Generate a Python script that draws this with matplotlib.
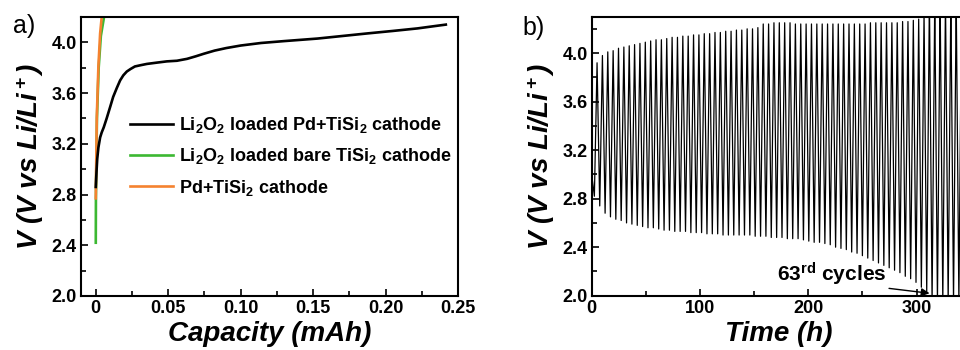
import numpy as np
import matplotlib
matplotlib.use("Agg")
import matplotlib.pyplot as plt
from matplotlib.ticker import MultipleLocator

plt.rcParams['font.family'] = ['Liberation Sans', 'DejaVu Sans']
plt.rcParams['font.weight'] = 'bold'
plt.rcParams['axes.labelweight'] = 'bold'
plt.rcParams['mathtext.fontset'] = 'custom'
plt.rcParams['mathtext.rm'] = 'Liberation Sans'
plt.rcParams['mathtext.bf'] = 'Liberation Sans:bold'
plt.rcParams['mathtext.it'] = 'Liberation Sans:italic'
plt.rcParams['mathtext.default'] = 'bf'

# ---- panel a: first charge curves ----
cap_pd = [0.0, 0.0005, 0.001, 0.0018, 0.003, 0.0041, 0.0055, 0.0075, 0.0099,
          0.012, 0.0145, 0.0168, 0.019, 0.0214, 0.024, 0.027, 0.031, 0.0353,
          0.042, 0.049, 0.056, 0.063, 0.069, 0.0745, 0.082, 0.09, 0.1, 0.114,
          0.13, 0.153, 0.17, 0.187, 0.205, 0.222, 0.235, 0.2416]
v_pd = [2.86, 2.98, 3.08, 3.17, 3.25, 3.29, 3.33, 3.40, 3.49,
        3.57, 3.64, 3.70, 3.74, 3.77, 3.79, 3.81, 3.82, 3.83,
        3.84, 3.85, 3.855, 3.87, 3.89, 3.91, 3.935, 3.955, 3.975, 3.995,
        4.01, 4.03, 4.05, 4.07, 4.09, 4.11, 4.13, 4.14]

cap_bare = [0.0, 0.0001, 0.0008, 0.002, 0.0035, 0.006]
v_bare = [2.42, 2.77, 3.40, 3.80, 4.05, 4.22]

cap_nolio = [0.0, 0.0007, 0.0018, 0.003, 0.0041, 0.005]
v_nolio = [2.77, 3.41, 3.81, 4.07, 4.20, 4.28]

labels_a = [r'Li$_2$O$_2$ loaded Pd+TiSi$_2$ cathode',
            r'Li$_2$O$_2$ loaded bare TiSi$_2$ cathode',
            r'Pd+TiSi$_2$ cathode']
xticks_a = [0, 0.05, 0.10, 0.15, 0.20, 0.25]
xticklabels_a = ['0', '0.05', '0.10', '0.15', '0.20', '0.25']
yticks = [2.0, 2.4, 2.8, 3.2, 3.6, 4.0]
yticklabels = ['2.0', '2.4', '2.8', '3.2', '3.6', '4.0']

# ---- panel b: cycling, per-cycle end-of-charge / end-of-discharge voltage ----
cycle_hours = 4.95
ocv_start = 3.0
peak_v = [3.92, 3.98, 4.01, 4.02, 4.04, 4.05, 4.06, 4.07, 4.08, 4.09,
          4.10, 4.11, 4.11, 4.12, 4.13, 4.13, 4.14, 4.14, 4.15, 4.15,
          4.16, 4.16, 4.17, 4.17, 4.18, 4.18, 4.19, 4.19, 4.20, 4.20,
          4.21, 4.24, 4.24, 4.25, 4.25, 4.25, 4.25, 4.24, 4.24, 4.24,
          4.24, 4.24, 4.24, 4.24, 4.24, 4.24, 4.24, 4.24, 4.24, 4.24,
          4.24, 4.25, 4.25, 4.25, 4.25, 4.25, 4.25, 4.26, 4.26, 4.27,
          4.28, 4.33, 4.45, 4.45, 4.45, 4.45, 4.45, 4.45, 4.45]
trough_v = [2.82, 2.74, 2.68, 2.65, 2.63, 2.62, 2.60, 2.59, 2.58, 2.57,
            2.56, 2.56, 2.55, 2.54, 2.54, 2.53, 2.53, 2.53, 2.52, 2.52,
            2.52, 2.51, 2.51, 2.51, 2.50, 2.50, 2.50, 2.50, 2.50, 2.50,
            2.49, 2.49, 2.49, 2.48, 2.48, 2.48, 2.47, 2.47, 2.47, 2.46,
            2.45, 2.44, 2.44, 2.43, 2.42, 2.40, 2.39, 2.38, 2.36, 2.35,
            2.33, 2.31, 2.29, 2.27, 2.25, 2.23, 2.21, 2.19, 2.16, 2.14,
            2.11, 2.07, 2.03, 1.95, 1.95, 1.95, 1.95, 1.95, 1.95]
xticks_b = [0, 100, 200, 300]
xticklabels_b = ['0', '100', '200', '300']

# build the time trace: discharge to trough, then charge to peak, each cycle
t_b = [0.0]
v_b = [ocv_start]
for i in range(len(peak_v)):
    t_b += [(i + 0.5) * cycle_hours, (i + 1) * cycle_hours]
    v_b += [trough_v[i], peak_v[i]]

fig = plt.figure(figsize=(9.6, 3.5), dpi=100)
ax1 = fig.add_axes([81 / 960, 54 / 350, 377 / 960, 279 / 350])
ax2 = fig.add_axes([591.7 / 960, 54.3 / 350, 373.6 / 960, 279 / 350])

ax1.plot(cap_pd, v_pd, color='black', lw=1.9, label=labels_a[0], zorder=3)
ax1.plot(cap_bare, v_bare, color='#3cb832', lw=1.9, label=labels_a[1])
ax1.plot(cap_nolio, v_nolio, color='#f5822f', lw=1.9, label=labels_a[2])
ax1.set_xlim(-0.0102, 0.25)
ax1.set_ylim(2.0, 4.2)
ax1.set_xticks(xticks_a)
ax1.set_xticklabels(xticklabels_a)
ax1.set_yticks(yticks)
ax1.set_yticklabels(yticklabels)
ax1.xaxis.set_minor_locator(MultipleLocator(0.025))
ax1.yaxis.set_minor_locator(MultipleLocator(0.2))
ax1.set_xlabel('Capacity (mAh)', fontsize=20, style='italic', fontweight='bold', labelpad=3)
ax1.set_ylabel(r'V (V vs Li/Li$^+$)', fontsize=20, style='italic', fontweight='bold', labelpad=4)
ax1.legend(loc='upper left', bbox_to_anchor=(0.13, 0.648), frameon=False,
           prop={'weight': 'bold', 'size': 13}, handlelength=2.4,
           handletextpad=0.3, labelspacing=0.62, borderpad=0, borderaxespad=0)

ax2.plot(t_b, v_b, color='black', lw=0.9)
ax2.set_xlim(0, 345)
ax2.set_ylim(2.0, 4.3)
ax2.set_xticks(xticks_b)
ax2.set_xticklabels(xticklabels_b)
ax2.set_yticks(yticks)
ax2.set_yticklabels(yticklabels)
ax2.xaxis.set_minor_locator(MultipleLocator(50))
ax2.yaxis.set_minor_locator(MultipleLocator(0.2))
ax2.set_xlabel('Time (h)', fontsize=20, style='italic', fontweight='bold', labelpad=3)
ax2.set_ylabel(r'V (V vs Li/Li$^+$)', fontsize=20, style='italic', fontweight='bold', labelpad=4)
ax2.annotate(r'63$^{rd}$ cycles', xy=(312, 2.02), xytext=(272, 2.12),
             ha='right', va='baseline', fontsize=15, fontweight='bold',
             arrowprops=dict(arrowstyle='-|>', color='black', lw=1,
                             mutation_scale=12, relpos=(0.97, 0.0),
                             shrinkA=0, shrinkB=0))

for ax in (ax1, ax2):
    for s in ax.spines.values():
        s.set_linewidth(1.5)
    ax.tick_params(which='both', direction='in', width=1.2, labelsize=13, pad=3)
    ax.tick_params(which='major', length=5)
    ax.tick_params(which='minor', length=3.5)

fig.text(13 / 960, 1 - 33 / 350, 'a)', fontsize=18, fontweight='normal', va='baseline')
fig.text(522 / 960, 1 - 35 / 350, 'b)', fontsize=18, fontweight='normal', va='baseline')

fig.savefig('out.png', dpi=100)
